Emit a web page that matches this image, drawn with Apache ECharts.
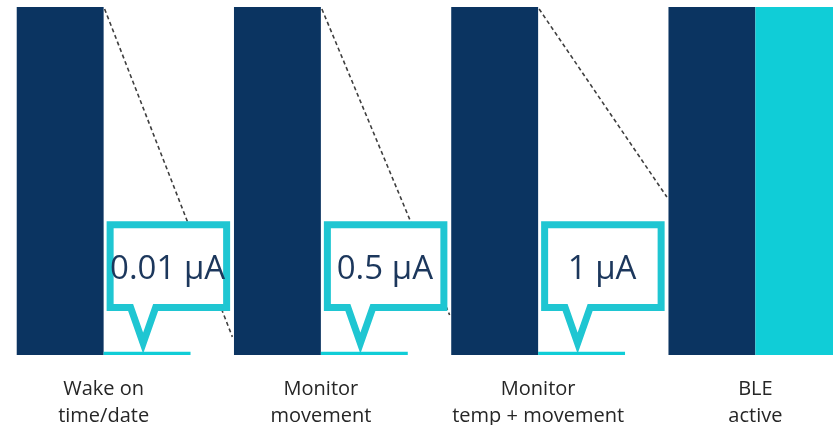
<!DOCTYPE html>
<html><head><meta charset="utf-8">
<script src="https://cdn.jsdelivr.net/npm/echarts@6/dist/echarts.min.js"></script>
<style>html,body{margin:0;padding:0;background:#fff}#c{width:833px;height:425px}</style>
</head><body><div id="c"></div>
<script>
// ---- data ----
const categories = ['Wake on\ntime/date', 'Monitor\nmovement', 'Monitor\ntemp + movement', 'BLE\nactive'];
const baseValues = [100, 100, 100, 100];
const modeValues = [0.9, 0.9, 0.9, 100];
const calloutLabels = ['0.01 µA', '0.5 µA', '1 µA'];
const dashEndValues = [5.2, 11.5, 45.4];

// ---- layout (annotation geometry, in axis value units / pixel offsets) ----
const layout = {
  boxTop: 37.4, boxBottom: 13.65, tipValue: 3.4, textValue: 24.6,
  boxLeft: 6.5, boxRight: 123, ptrL: 27, ptrR: 52, ptrTip: 39.5, textX: 64,
  dashStartDX: 1, dashEndDX: -88.5
};

const chart = echarts.init(document.getElementById('c'), null, {renderer: 'canvas'});
chart.setOption({
  animation: false,
  grid: {left: -5, width: 869, top: 7, bottom: 70, outerBoundsMode: 'none', containLabel: false},
  xAxis: {
    type: 'category', data: categories,
    axisLine: {show: false}, axisTick: {show: false}, splitLine: {show: false},
    axisLabel: {fontFamily: 'Open Sans', fontSize: 20, color: '#262626', lineHeight: 27, margin: 21, interval: 0}
  },
  yAxis: {type: 'value', min: 0, max: 100, show: false},
  series: [
    {type: 'bar', data: baseValues, barGap: '0%', barCategoryGap: '20%', itemStyle: {color: '#0b3461'}, z: 2},
    {type: 'bar', data: modeValues, itemStyle: {color: '#10cdd7'}, z: 2}
  ]
});

function px(i, v) { return chart.convertToPixel({gridIndex: 0}, [i, v]); }
const els = [];
for (let i = 0; i < dashEndValues.length; i++) {
  const a = px(i, 100), b = px(i + 1, dashEndValues[i]);
  els.push({type: 'line', z: 1,
    shape: {x1: a[0] + layout.dashStartDX, y1: a[1] + 2, x2: b[0] + layout.dashEndDX, y2: b[1]},
    style: {stroke: '#3f3f3f', lineWidth: 1.6, lineDash: [4, 3]}});
}
for (let i = 0; i < calloutLabels.length; i++) {
  const c = px(i, 0)[0];
  const yT = px(i, layout.boxTop)[1], yB = px(i, layout.boxBottom)[1], yTip = px(i, layout.tipValue)[1];
  els.push({type: 'polygon', z: 10,
    shape: {points: [
      [c + layout.boxLeft, yT], [c + layout.boxRight, yT], [c + layout.boxRight, yB],
      [c + layout.ptrR, yB], [c + layout.ptrTip, yTip], [c + layout.ptrL, yB], [c + layout.boxLeft, yB]
    ]},
    style: {fill: '#ffffff', stroke: '#1fc6d2', lineWidth: 7, lineJoin: 'miter', miterLimit: 10}});
  const ty = px(i, layout.textValue)[1];
  els.push({type: 'text', z: 12, x: c + layout.textX, y: ty,
    style: {text: calloutLabels[i], font: '33px "Open Sans"', fill: '#1c375c',
      align: 'center', verticalAlign: 'middle', textAlign: 'center', textVerticalAlign: 'middle'}});
}
chart.setOption({graphic: {elements: els}});
</script>
</body></html>
